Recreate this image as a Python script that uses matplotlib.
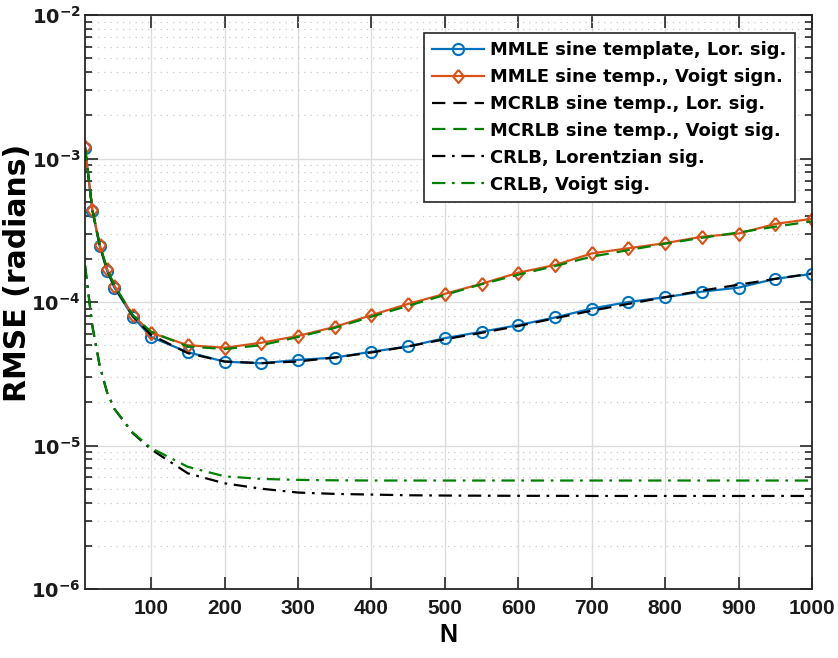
import math
import matplotlib
matplotlib.use("Agg")
import matplotlib.pyplot as plt
from matplotlib.ticker import FixedLocator, LogLocator, NullFormatter, FuncFormatter

plt.rcParams['font.family'] = ['DejaVu Sans']
plt.rcParams['font.weight'] = 'bold'
plt.rcParams['mathtext.fontset'] = 'dejavusans'
plt.rcParams['mathtext.default'] = 'bf'

# Window lengths
N = [10, 20, 30, 40, 50, 75, 100, 150, 200, 250, 300, 350, 400, 450, 500,
     550, 600, 650, 700, 750, 800, 850, 900, 950, 1000]

# MMLE with sine template, Lorentzian signal
mmle_lor = [1.18e-3, 4.33e-4, 2.45e-4, 1.65e-4, 1.26e-4, 7.9e-5, 5.7e-5, 4.47e-5,
            3.84e-5, 3.74e-5, 3.95e-5, 4.1e-5, 4.5e-5, 4.9e-5, 5.6e-5, 6.2e-5,
            6.9e-5, 7.8e-5, 9.0e-5, 1.0e-4, 1.08e-4, 1.18e-4, 1.26e-4, 1.45e-4, 1.57e-4]
# MMLE with sine template, Voigt signal
mmle_voigt = [1.2e-3, 4.4e-4, 2.5e-4, 1.7e-4, 1.3e-4, 8.1e-5, 6.1e-5, 5.0e-5,
              4.8e-5, 5.2e-5, 5.8e-5, 6.7e-5, 8.1e-5, 9.7e-5, 1.14e-4, 1.34e-4,
              1.6e-4, 1.81e-4, 2.18e-4, 2.37e-4, 2.57e-4, 2.85e-4, 3.0e-4, 3.5e-4, 3.8e-4]
# Misspecified CRLB, Lorentzian signal
mcrlb_lor = [1.2e-3, 4.4e-4, 2.5e-4, 1.68e-4, 1.28e-4, 8.0e-5, 5.9e-5, 4.4e-5,
             3.85e-5, 3.75e-5, 3.85e-5, 4.1e-5, 4.45e-5, 4.9e-5, 5.5e-5, 6.1e-5,
             6.8e-5, 7.7e-5, 8.7e-5, 9.7e-5, 1.08e-4, 1.2e-4, 1.32e-4, 1.45e-4, 1.58e-4]
# Misspecified CRLB, Voigt signal
mcrlb_voigt = [1.2e-3, 4.4e-4, 2.5e-4, 1.7e-4, 1.3e-4, 8.1e-5, 6.2e-5, 4.9e-5,
               4.7e-5, 5.0e-5, 5.7e-5, 6.6e-5, 7.9e-5, 9.4e-5, 1.12e-4, 1.33e-4,
               1.55e-4, 1.78e-4, 2.07e-4, 2.3e-4, 2.55e-4, 2.8e-4, 3.05e-4, 3.35e-4, 3.65e-4]
# CRLB, Lorentzian signal
crlb_lor = [1.8e-4, 6.8e-5, 3.6e-5, 2.35e-5, 1.8e-5, 1.22e-5, 9.4e-6, 6.4e-6,
            5.45e-6, 5.0e-6, 4.7e-6, 4.6e-6, 4.55e-6, 4.5e-6, 4.48e-6, 4.47e-6,
            4.46e-6, 4.46e-6, 4.45e-6, 4.45e-6, 4.45e-6, 4.45e-6, 4.45e-6, 4.45e-6, 4.45e-6]
# CRLB, Voigt signal
crlb_voigt = [1.8e-4, 6.8e-5, 3.6e-5, 2.35e-5, 1.8e-5, 1.23e-5, 9.6e-6, 7.1e-6,
              6.1e-6, 5.85e-6, 5.76e-6, 5.72e-6, 5.7e-6, 5.7e-6, 5.7e-6, 5.7e-6,
              5.7e-6, 5.7e-6, 5.7e-6, 5.7e-6, 5.7e-6, 5.7e-6, 5.7e-6, 5.7e-6, 5.7e-6]

labels = ['MMLE sine template, Lor. sig.', 'MMLE sine temp., Voigt sign.',
          'MCRLB sine temp., Lor. sig.', 'MCRLB sine temp., Voigt sig.',
          'CRLB, Lorentzian sig.', 'CRLB, Voigt sig.']
xticks = [100, 200, 300, 400, 500, 600, 700, 800, 900, 1000]

W, H = 838, 658
fig = plt.figure(figsize=(W / 100, H / 100), dpi=100)
ax = fig.add_axes([85 / W, (H - 589) / H, (812 - 85) / W, (589 - 15) / H])

blue = '#0072BD'
orange = '#D95319'
green = '#008000'
lw = 1.6
dash = (6.0, 3.6)
dashdot = (6.0, 3.0, 1.2, 3.0)
diamond = [(0, 1), (0.82, 0), (0, -1), (-0.82, 0), (0, 1)]

ax.plot(N, mmle_lor, color=blue, lw=lw, marker='o', ms=8, mfc='none', mew=1.5,
        label=labels[0])
ax.plot(N, mmle_voigt, color=orange, lw=lw, marker=diamond, ms=9.5, mfc='none',
        mew=1.5, label=labels[1])
ax.plot(N, mcrlb_lor, color='black', lw=lw, dashes=dash, label=labels[2])
ax.plot(N, mcrlb_voigt, color=green, lw=lw, dashes=dash, label=labels[3])
ax.plot(N, crlb_lor, color='black', lw=lw, dashes=dashdot, label=labels[4])
ax.plot(N, crlb_voigt, color=green, lw=lw, dashes=dashdot, label=labels[5])

ax.set_yscale('log')
ax.set_xlim(10, 1000)
ax.set_ylim(1e-6, 1e-2)
ax.xaxis.set_major_locator(FixedLocator(xticks))
ax.yaxis.set_major_locator(LogLocator(base=10, numticks=10))
ax.yaxis.set_minor_locator(LogLocator(base=10, subs=range(2, 10), numticks=20))
ax.yaxis.set_minor_formatter(NullFormatter())
ax.yaxis.set_major_formatter(FuncFormatter(
    lambda v, p: r'$\mathbf{10^{%d}}$' % round(math.log10(v))))

edge = '#262626'
for s in ax.spines.values():
    s.set_color(edge)
    s.set_linewidth(1.3)
ax.tick_params(which='both', direction='in', top=True, right=True, color=edge,
               labelcolor='#1a1a1a', width=1.2)
ax.tick_params(which='major', length=9)
ax.tick_params(which='minor', length=5)
ax.tick_params(axis='x', which='major', pad=7)
ax.tick_params(axis='y', which='major', labelsize=14, pad=3)

xfont = dict(family='Liberation Sans', weight='bold')
ax.set_xticks(xticks)
ax.set_xticklabels([str(v) for v in xticks], fontsize=15, **xfont)

ax.grid(True, which='major', color='#dcdcdc', lw=1.0, ls='-')
ax.grid(True, which='minor', axis='y', color='#c8c8c8', lw=0.9, ls=(0, (1, 4)))
ax.set_axisbelow(True)

ax.set_xlabel('N', fontsize=18, labelpad=4, **xfont)
ax.set_ylabel('RMSE (radians)', fontsize=21.5, fontweight='bold')
ax.yaxis.set_label_coords(-0.073, 0.55)

leg = ax.legend(loc='upper right', bbox_to_anchor=(0.9765, 0.969),
                prop=dict(family='DejaVu Sans', weight='bold', size=12.9),
                frameon=True, fancybox=False, handlelength=2.9, borderpad=0.45,
                labelspacing=0.5, handletextpad=0.35, borderaxespad=0)
leg.get_frame().set_edgecolor(edge)
leg.get_frame().set_linewidth(1.2)
leg.get_frame().set_alpha(1.0)

fig.savefig('out.png', dpi=100)
